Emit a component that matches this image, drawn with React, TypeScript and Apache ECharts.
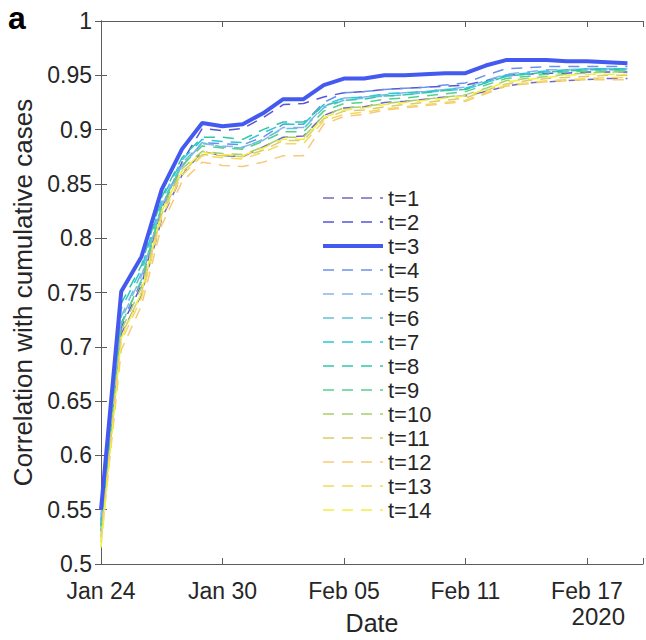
import React, { useEffect, useRef } from "react";
import * as echarts from "echarts";

const dates = [
  "Jan 24", "Jan 25", "Jan 26", "Jan 27", "Jan 28", "Jan 29", "Jan 30", "Jan 31",
  "Feb 01", "Feb 02", "Feb 03", "Feb 04", "Feb 05", "Feb 06", "Feb 07", "Feb 08",
  "Feb 09", "Feb 10", "Feb 11", "Feb 12", "Feb 13", "Feb 14", "Feb 15", "Feb 16",
  "Feb 17", "Feb 18", "Feb 19",
];
const tickEvery = 6;

const seriesNames = ["t=1", "t=2", "t=3", "t=4", "t=5", "t=6", "t=7", "t=8", "t=9", "t=10", "t=11", "t=12", "t=13", "t=14"];
const colors = [
  "#7468bf", "#5656d8", "#4459f0", "#6a92ea", "#86b6e8", "#66c0da", "#2ec6d8",
  "#2ec8a8", "#56d08e", "#a6cf6e", "#dccb6a", "#f7c97a", "#f1da5e", "#f2ee3e",
];

const t1 = [0.535, 0.712, 0.748, 0.818, 0.858, 0.880, 0.876, 0.875, 0.884, 0.893, 0.894, 0.913, 0.920, 0.921, 0.925, 0.926, 0.928, 0.930, 0.931, 0.935, 0.940, 0.943, 0.944, 0.945, 0.946, 0.947, 0.947];
const t2 = [0.540, 0.718, 0.757, 0.828, 0.870, 0.901, 0.899, 0.901, 0.911, 0.923, 0.924, 0.930, 0.934, 0.935, 0.937, 0.938, 0.939, 0.940, 0.941, 0.945, 0.950, 0.951, 0.952, 0.952, 0.953, 0.953, 0.953];
const t3 = [0.550, 0.751, 0.783, 0.845, 0.882, 0.906, 0.903, 0.905, 0.915, 0.928, 0.928, 0.941, 0.947, 0.947, 0.950, 0.950, 0.951, 0.952, 0.952, 0.959, 0.964, 0.964, 0.964, 0.963, 0.963, 0.962, 0.961];
const t4 = [0.545, 0.722, 0.760, 0.828, 0.866, 0.888, 0.887, 0.886, 0.893, 0.905, 0.905, 0.925, 0.934, 0.935, 0.937, 0.938, 0.939, 0.941, 0.943, 0.950, 0.956, 0.957, 0.958, 0.958, 0.958, 0.958, 0.958];
const t5 = [0.540, 0.725, 0.765, 0.830, 0.867, 0.887, 0.885, 0.884, 0.890, 0.902, 0.902, 0.921, 0.929, 0.930, 0.932, 0.934, 0.935, 0.937, 0.939, 0.945, 0.951, 0.953, 0.955, 0.955, 0.956, 0.956, 0.956];
const t6 = [0.535, 0.728, 0.768, 0.832, 0.869, 0.888, 0.884, 0.883, 0.891, 0.901, 0.901, 0.920, 0.927, 0.929, 0.931, 0.932, 0.934, 0.936, 0.937, 0.943, 0.949, 0.951, 0.953, 0.954, 0.955, 0.955, 0.955];
const t7 = [0.535, 0.735, 0.772, 0.836, 0.872, 0.891, 0.889, 0.888, 0.897, 0.905, 0.905, 0.923, 0.929, 0.930, 0.933, 0.934, 0.935, 0.937, 0.938, 0.944, 0.950, 0.952, 0.954, 0.955, 0.956, 0.956, 0.956];
const t8 = [0.530, 0.740, 0.775, 0.838, 0.874, 0.893, 0.893, 0.891, 0.900, 0.907, 0.907, 0.922, 0.927, 0.928, 0.931, 0.932, 0.934, 0.936, 0.937, 0.943, 0.949, 0.951, 0.953, 0.954, 0.955, 0.955, 0.955];
const t9 = [0.530, 0.720, 0.762, 0.830, 0.867, 0.885, 0.883, 0.882, 0.889, 0.898, 0.898, 0.917, 0.924, 0.925, 0.928, 0.929, 0.931, 0.933, 0.935, 0.941, 0.947, 0.949, 0.951, 0.953, 0.954, 0.954, 0.954];
const t10 = [0.525, 0.715, 0.755, 0.825, 0.864, 0.880, 0.878, 0.877, 0.884, 0.893, 0.893, 0.913, 0.920, 0.921, 0.924, 0.926, 0.928, 0.930, 0.932, 0.938, 0.945, 0.947, 0.949, 0.951, 0.952, 0.953, 0.953];
const t11 = [0.525, 0.710, 0.750, 0.822, 0.861, 0.877, 0.876, 0.875, 0.881, 0.890, 0.890, 0.910, 0.917, 0.918, 0.921, 0.923, 0.925, 0.927, 0.929, 0.936, 0.942, 0.945, 0.947, 0.948, 0.949, 0.950, 0.950];
const t12 = [0.520, 0.697, 0.738, 0.812, 0.852, 0.870, 0.867, 0.866, 0.870, 0.876, 0.876, 0.905, 0.912, 0.914, 0.918, 0.920, 0.922, 0.924, 0.926, 0.933, 0.940, 0.942, 0.944, 0.945, 0.946, 0.946, 0.946];
const t13 = [0.520, 0.705, 0.745, 0.820, 0.858, 0.876, 0.874, 0.873, 0.879, 0.887, 0.887, 0.908, 0.914, 0.916, 0.919, 0.921, 0.923, 0.925, 0.927, 0.934, 0.941, 0.943, 0.945, 0.946, 0.947, 0.948, 0.948];
const t14 = [0.515, 0.708, 0.750, 0.825, 0.862, 0.879, 0.877, 0.876, 0.883, 0.891, 0.891, 0.911, 0.918, 0.920, 0.923, 0.925, 0.927, 0.929, 0.931, 0.937, 0.944, 0.946, 0.948, 0.950, 0.951, 0.951, 0.951];

const allValues = [t1, t2, t3, t4, t5, t6, t7, t8, t9, t10, t11, t12, t13, t14];
const highlighted = 2;

const FONT = "'Liberation Sans', Arial, Helvetica, sans-serif";
const TXT = "#262626";
const AX = "#5c5c5c";

export default function App() {
  const ref = useRef<HTMLDivElement>(null);
  useEffect(() => {
    if (!ref.current) return;
    const chart = echarts.init(ref.current, undefined, { renderer: "svg" });
    const xMax = 26.77;
    const xFmt = (v: number) => {
      const i = Math.round(v);
      if (Math.abs(v - i) < 1e-6 && i % tickEvery === 0 && dates[i]) return dates[i];
      return "";
    };
    const baseX = {
      type: "value" as const,
      min: 0,
      max: xMax,
      interval: tickEvery,
      splitLine: { show: false },
      axisLine: { show: true, lineStyle: { color: AX, width: 1 } },
      axisTick: { show: true, inside: true, length: 6, lineStyle: { color: AX } },
    };
    const baseY = {
      type: "value" as const,
      min: 0.5,
      max: 1,
      interval: 0.05,
      splitLine: { show: false },
      axisLine: { show: true, lineStyle: { color: AX, width: 1 } },
      axisTick: { show: true, inside: true, length: 6, lineStyle: { color: AX } },
    };
    const widthOf = (k: number) => (k === highlighted ? 4 : 1.5);
    const dashOf = (k: number): any => (k === highlighted ? "solid" : [11, 8]);
    const series = allValues.map((vals, k) => ({
      name: seriesNames[k],
      type: "line",
      data: vals.map((v, i) => [i, v]),
      symbol: "none",
      showSymbol: false,
      z: k === highlighted ? 5 : 2,
      lineStyle: { color: colors[k], width: widthOf(k), type: dashOf(k) },
      itemStyle: { color: colors[k] },
      emphasis: { disabled: true },
    }));
    chart.setOption({
      animation: false,
      backgroundColor: "#ffffff",
      grid: { left: 101, right: 3, top: 21, bottom: 72, containLabel: false },
      xAxis: [
        {
          ...baseX,
          position: "bottom",
          name: "Date",
          nameLocation: "middle",
          nameGap: 46,
          nameTextStyle: { color: TXT, fontSize: 25, fontFamily: FONT },
          axisLabel: { formatter: xFmt, color: TXT, fontSize: 23, fontFamily: FONT, margin: 15 },
        },
        { ...baseX, position: "top", axisLabel: { show: false } },
      ],
      yAxis: [
        {
          ...baseY,
          position: "left",
          name: "Correlation with cumulative cases",
          nameLocation: "middle",
          nameGap: 59,
          nameTextStyle: { color: TXT, fontSize: 26, fontFamily: FONT },
          axisLabel: { color: TXT, fontSize: 23, fontFamily: FONT, margin: 9 },
        },
        { ...baseY, position: "right", axisLabel: { show: false } },
      ],
      legend: {
        orient: "vertical",
        left: 321,
        top: 186,
        itemWidth: 60,
        itemHeight: 14,
        itemGap: 0,
        padding: 0,
        itemStyle: { opacity: 0, borderWidth: 0 },
        textStyle: { color: TXT, fontSize: 22, fontFamily: FONT, lineHeight: 24 },
        data: seriesNames.map((n, k) => ({
          name: n,
          lineStyle: { width: widthOf(k), type: dashOf(k), color: colors[k] },
        })),
        selectedMode: false,
      },
      graphic: [
        {
          type: "text",
          left: 8,
          top: 2,
          style: { text: "a", fontSize: 32, fontWeight: "bold", fontFamily: FONT, fill: "#000" },
        },
        {
          type: "text",
          right: 21,
          top: 604,
          style: { text: "2020", fontSize: 24, fontFamily: FONT, fill: TXT },
        },
      ],
      series,
    });
    return () => chart.dispose();
  }, []);
  return (
    <div
      ref={ref}
      style={{ position: "fixed", left: 0, top: 0, width: 646, height: 640, background: "#fff" }}
    />
  );
}
